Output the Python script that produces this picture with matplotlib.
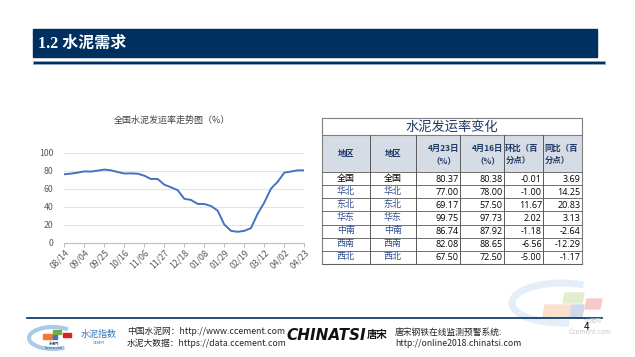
import numpy as np
import matplotlib
matplotlib.use('Agg')
import matplotlib.pyplot as plt
from matplotlib.patches import Rectangle, Polygon, Arc

plt.rcParams['font.family'] = ['Noto Sans CJK SC', 'DejaVu Sans']

# weekly national cement shipment rate (%), 08/14 .. 04/23
rate = [76.0, 76.7, 77.8, 79.2, 79.0, 80.0, 81.2, 80.4, 78.5, 76.8, 77.0, 76.6,
        74.4, 70.7, 70.8, 64.4, 61.5, 58.3, 48.7, 47.4, 43.0, 42.8, 40.7, 35.5,
        20.0, 13.0, 11.9, 13.0, 16.0, 32.0, 44.5, 60.0, 67.5, 77.8, 79.0, 80.38, 80.37]
tick_labels = ['08/14', '09/04', '09/25', '10/16', '11/06', '11/27', '12/18',
               '01/08', '01/29', '02/19', '03/12', '04/02', '04/23']

regions = ['全国', '华北', '东北', '华东', '中南', '西南', '西北']
apr23 = [80.37, 77.00, 69.17, 99.75, 86.74, 82.08, 67.50]
apr16 = [80.38, 78.00, 57.50, 97.73, 87.92, 88.65, 72.50]
wow = [-0.01, -1.00, 11.67, 2.02, -1.18, -6.56, -5.00]
yoy = [3.69, 14.25, 20.83, 3.13, -2.64, -12.29, -1.17]

W, H = 635, 357
fig = plt.figure(figsize=(W / 100, H / 100), dpi=100)

# page overlay in pixel coordinates
ov = fig.add_axes([0, 0, 1, 1])
ov.set_xlim(0, W)
ov.set_ylim(H, 0)
ov.axis('off')

navy = '#00305f'
ov.add_patch(Rectangle((33, 29), 564, 28, color=navy, zorder=1))
ov.text(38, 43.5, '1.2 水泥需求', color='white', fontsize=11.5, fontweight='bold',
        va='center', family=['Liberation Serif', 'Noto Sans CJK SC'])
ov.add_patch(Rectangle((33, 60.5), 572, 3.5, facecolor=navy, edgecolor='#8fa8c8', lw=0.6))

# chart
ax = fig.add_axes([64.3 / W, (H - 242.5) / H, 240 / W, 89.8 / H])
x = np.arange(len(rate))
ax.plot(x, rate, color='#4472c4', lw=1.4)
ax.set_xlim(0, len(rate) - 1)
ax.set_ylim(0, 100)
ax.set_yticks(range(0, 101, 20))
ax.set_xticks(x[::3])
ax.set_xticklabels(tick_labels, rotation=45, ha='right', rotation_mode='anchor')
ax.tick_params(axis='y', length=0, labelsize=6.3, labelcolor='#595959', pad=8)
ax.tick_params(axis='x', length=3, color='#bfbfbf', labelsize=6.3, labelcolor='#595959', pad=1)
ax.grid(axis='y', color='#e3e3e3', lw=0.8)
ax.set_axisbelow(True)
for s in ['top', 'right', 'left']:
    ax.spines[s].set_visible(False)
ax.spines['bottom'].set_color('#bfbfbf')
ax.patch.set_alpha(0)
ov.text(172, 120, '全国水泥发运率走势图（%）', fontsize=6.5, color='#404040', ha='center', va='center')

# table
cols = [321.7, 370, 415.7, 460, 504.3, 543.3, 581.7]
top, title_b, head_b, bottom = 118, 135, 172, 264
rh = (bottom - head_b) / len(regions)
grid_c = '#595959'
ov.add_patch(Rectangle((cols[0], title_b), cols[-1] - cols[0], head_b - title_b,
                       facecolor='#d6dce5', edgecolor='none'))
ov.add_patch(Rectangle((cols[0], top), cols[-1] - cols[0], bottom - top,
                       facecolor='none', edgecolor='#7f7f7f', lw=0.8))
ov.plot([cols[0], cols[-1]], [title_b, title_b], color='#7f7f7f', lw=0.8)
for cx in cols[1:-1]:
    ov.plot([cx, cx], [title_b, bottom], color=grid_c, lw=0.7)
for i in range(len(regions) + 1):
    yy = head_b + i * rh
    ov.plot([cols[0], cols[-1]], [yy, yy], color=grid_c, lw=0.6)
ov.text((cols[0] + cols[-1]) / 2, 127, '水泥发运率变化', fontsize=9.5, color='#1f3864',
        ha='center', va='center')

hc = '#1f3864'
hk = dict(fontsize=6, color=hc, fontweight='bold', style='italic')
ov.text((cols[0] + cols[1]) / 2, 153.5, '地区', ha='center', va='center', **hk)
ov.text((cols[1] + cols[2]) / 2, 153.5, '地区', ha='center', va='center', **hk)
for c, lab in [(2, '4月23日'), (3, '4月16日')]:
    ov.text(cols[c + 1] - 1, 148.5, lab, ha='right', va='center', **hk)
    ov.text(cols[c + 1] - 4, 160.5, '（%）', ha='right', va='center', **hk)
for c, lab in [(4, '环比（百'), (5, '同比（百')]:
    ov.text(cols[c] + 1, 148.5, lab, ha='left', va='center', **hk)
    ov.text(cols[c] + 1, 160.5, '分点）', ha='left', va='center', **hk)

for i, reg in enumerate(regions):
    yc = head_b + (i + 0.5) * rh + 0.5
    if i == 0:
        rk = dict(color='black')
    else:
        rk = dict(color='#2f4f8f', style='italic')
    ov.text((cols[0] + cols[1]) / 2, yc - 1, reg, fontsize=6.5, ha='center', va='center', **rk)
    ov.text((cols[1] + cols[2]) / 2, yc - 1, reg, fontsize=6.5, ha='center', va='center', **rk)
    for c, vals in [(2, apr23), (3, apr16), (4, wow), (5, yoy)]:
        ov.text(cols[c + 1] - 1.5, yc, f'{vals[i]:.2f}', fontsize=6.5, ha='right',
                va='center', color='black', family=['Open Sans', 'DejaVu Sans'])

# footer
ov.plot([27, 602], [317.5, 317.5], color=navy, lw=1.2)
ov.add_patch(Arc((53, 338), 48, 22, theta1=40, theta2=330, color='#a9cbe8', lw=3))
ov.add_patch(Rectangle((43, 334), 10, 5, color='#ee7d31'))
ov.add_patch(Rectangle((53, 334), 4, 5, color='#4472c4'))
ov.add_patch(Rectangle((53, 330), 8, 4, color='#70ad47'))
ov.add_patch(Rectangle((63, 333), 8, 4, color='#e02020'))
ov.text(54, 343.5, '东泥网', fontsize=2.5, ha='center', va='center', color='#1f3864')
ov.text(54, 348, 'Ccement.com', fontsize=2, ha='center', va='center', color='#404040')
ov.text(99, 334, '水泥指数', fontsize=6.5, ha='center', va='center', color='#2e75b6', style='italic')
ov.text(99, 342.5, 'CEMPI', fontsize=3, ha='center', va='center', color='#2e75b6')
ov.text(127, 331.5, '中国水泥网：http://www.ccement.com', fontsize=6.3, va='center', color='#262626')
ov.text(127, 343, '水泥大数据：https://data.ccement.com', fontsize=6.3, va='center', color='#262626')
ov.text(286, 335, 'CHINATSI', fontsize=11, fontweight='heavy', style='italic', va='center',
        color='#111111', family=['DejaVu Sans'])
ov.text(367, 335, '唐宋', fontsize=7.5, style='italic', fontweight='bold', va='center', color='#111111')
ov.text(395, 332, '唐宋钢铁在线监测预警系统:', fontsize=6.3, va='center', color='#262626')
ov.text(395, 344, 'http://online2018.chinatsi.com', fontsize=6.3, va='center', color='#262626')

# corner watermark logo
ov.add_patch(Arc((562, 303), 100, 40, theta1=70, theta2=320, color='#e3eef8', lw=5))
ov.add_patch(Polygon([(545, 305), (571, 305), (569, 317), (543, 317)], color='#fbe0cd'))
ov.add_patch(Polygon([(565, 293), (584, 293), (582, 303), (563, 303)], color='#e3edcf'))
ov.add_patch(Polygon([(587, 299), (602, 299), (600, 309), (585, 309)], color='#f6c9cd'))
ov.add_patch(Polygon([(572, 305), (584, 305), (582, 317), (570, 317)], color='#cfd9ea'))
ov.text(593, 321.5, '水泥网', fontsize=4.3, ha='center', va='center', color='#c8c8c8')
ov.text(590, 331.5, 'Ccement.com', fontsize=4.8, ha='center', va='center', color='#c8c8c8')
ov.text(587, 327, '4', fontsize=7, ha='center', va='center', color='black')

fig.savefig('out.png', dpi=100)
